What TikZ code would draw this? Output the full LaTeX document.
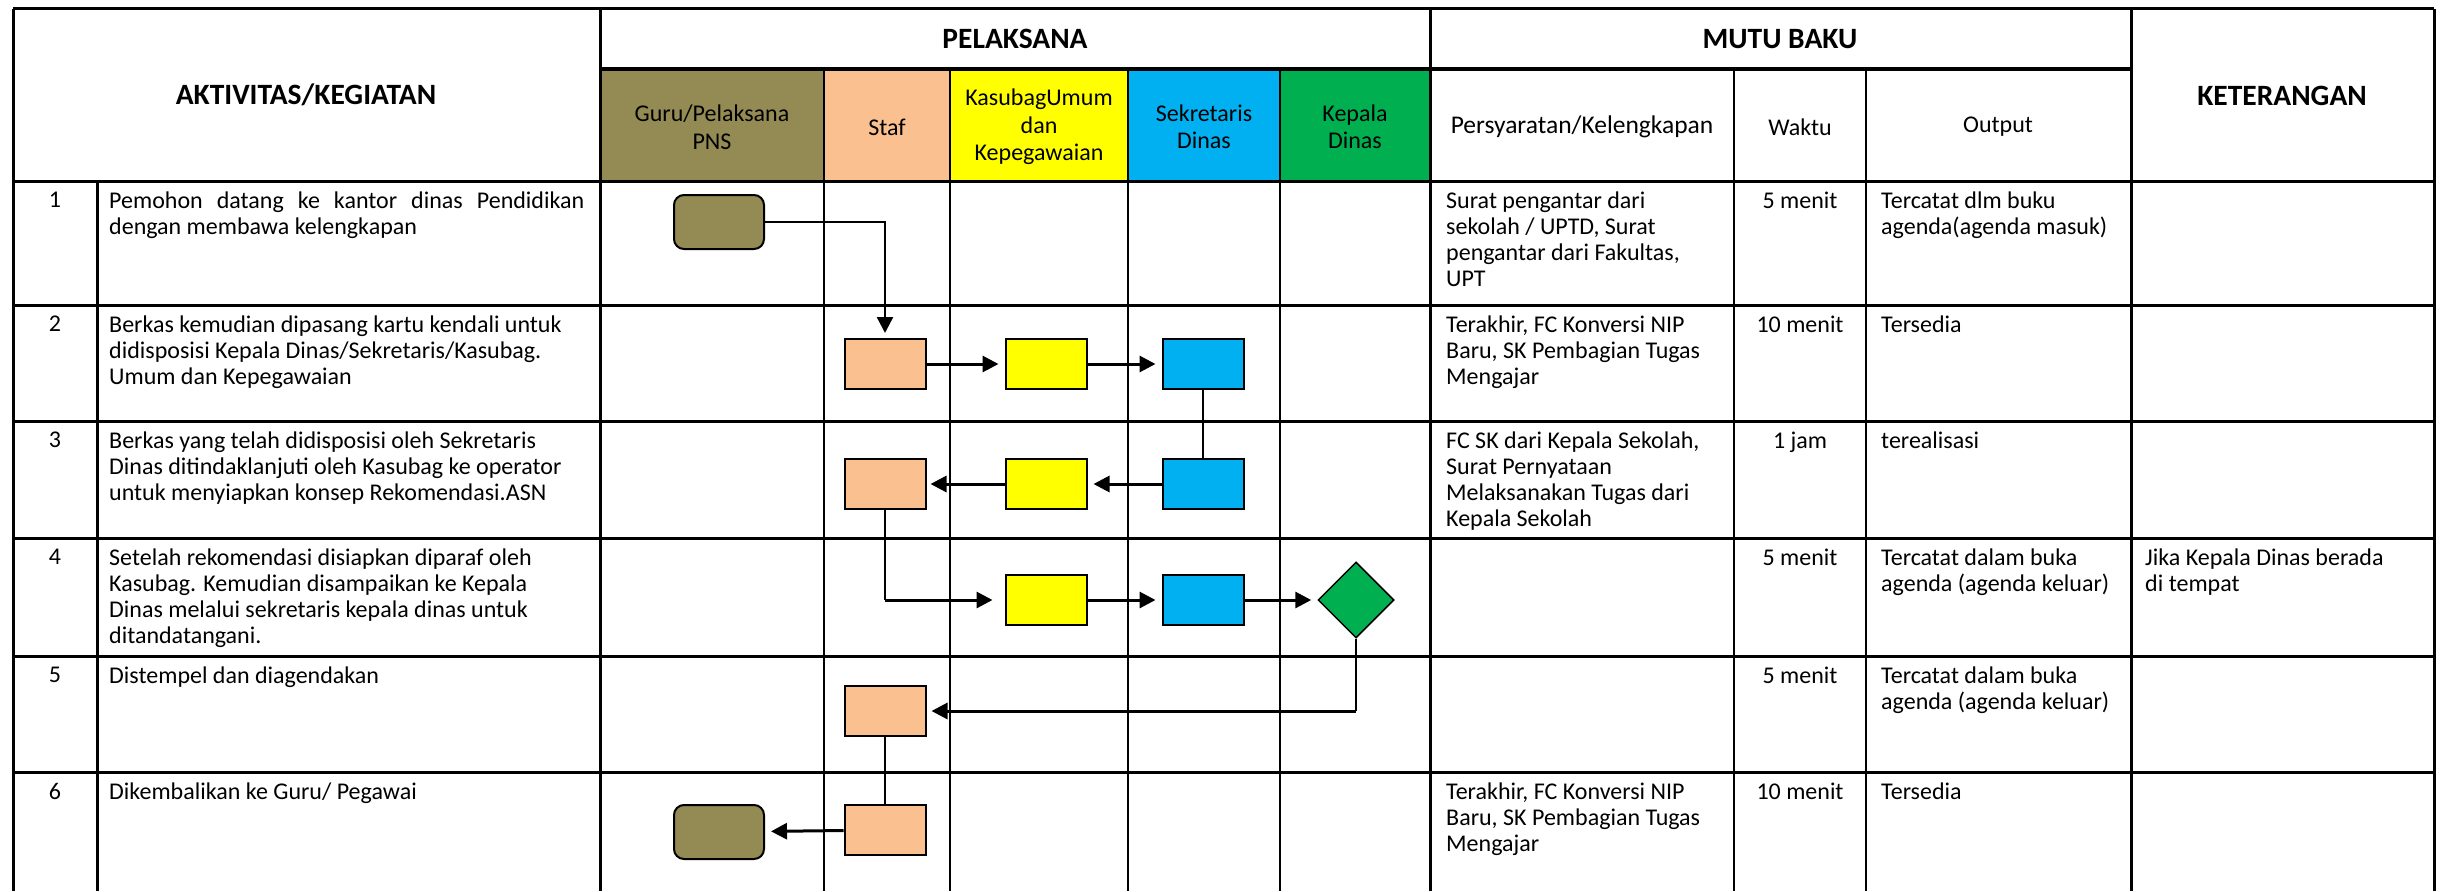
\documentclass[tikz,border=0pt]{standalone}
\usepackage{fontspec}
\setmainfont{Carlito}
\usetikzlibrary{arrows.meta,shapes.geometric}
\definecolor{olv}{HTML}{948A54}
\definecolor{stf}{HTML}{FAC090}
\definecolor{ylw}{HTML}{FFFF00}
\definecolor{blu}{HTML}{00B0F0}
\definecolor{grn}{HTML}{00B050}
\begin{document}
\begin{tikzpicture}[x=1pt,y=-1pt,
  every node/.style={inner sep=0pt},
  hdr/.style={font=\fontsize{29.5}{34}\selectfont\bfseries},
  lane/.style={font=\fontsize{24}{27.5}\selectfont, align=center},
  cell/.style={anchor=north west, align=left, font=\fontsize{24}{26}\selectfont},
  num/.style={anchor=north, align=center, font=\fontsize{24}{26}\selectfont},
  gridt/.style={line width=2pt},
  gridb/.style={line width=3pt},
  term/.style={draw, line width=2pt, rounded corners=10pt, minimum width=90pt, minimum height=54pt, fill=olv},
  proc/.style={draw, line width=2pt, minimum width=81pt, minimum height=50pt},
  dec/.style={diamond, draw, line width=1.5pt, minimum width=76pt, minimum height=76pt, fill=grn},
  arr/.style={line width=3pt, -{Triangle[length=16pt,width=16pt]}, shorten >=6pt},
  con/.style={line width=1.6pt},
]
\useasboundingbox (0,0) rectangle (2440,891);
\fill[white] (0,0) rectangle (2440,891);

% lane header fills
\fill[olv] (600,69) rectangle (824,181);
\fill[stf] (824,69) rectangle (950,181);
\fill[ylw] (950,69) rectangle (1128,181);
\fill[blu] (1128,69) rectangle (1280,181);
\fill[grn] (1280,69) rectangle (1430,181);

% grid: horizontal
\draw[gridb] (13,9) -- (2434,9);
\draw[gridb] (600,69) -- (2131,69);
\foreach \yy in {181,305,421,538,656,772} \draw[gridb] (13,\yy) -- (2434,\yy);
% grid: vertical
\foreach \xx in {13,600,1430,2131,2434} \draw[gridb] (\xx,9) -- (\xx,891);
\draw[gridb] (97,181) -- (97,891);
\foreach \xx in {824,950,1128,1280,1734,1866} \draw[gridt] (\xx,69) -- (\xx,891);

% headers
\node[hdr] (hA) at (306,95) {AKTIVITAS/KEGIATAN};
\node[hdr] (hP) at (1015,39) {PELAKSANA};
\node[hdr] (hM) at (1780,39) {MUTU BAKU};
\node[hdr] (hK) at (2282,96) {KETERANGAN};
\node[lane] (l1) at (712,127) {Guru/Pelaksana\\PNS};
\node[lane] (l2) at (887,127) {Staf};
\node[lane] (l3) at (1039,127) {KasubagUmum\\dan\\Kepegawaian};
\node[lane] (l4) at (1204,127) {Sekretaris\\Dinas};
\node[lane] (l5) at (1355,127) {Kepala\\Dinas};
\node[lane, font=\fontsize{25.5}{28}\selectfont] (m1) at (1582,127) {Persyaratan/Kelengkapan};
\node[lane] (m2) at (1800,127) {Waktu};
\node[lane] (m3) at (1998,127) {Output};

% row 1
\node[num] (n1) at (55,192) {1};
\node[cell] (t1) at (109,192) {\makebox[475pt][s]{Pemohon datang ke kantor dinas Pendidikan}\\dengan membawa kelengkapan};
\node[cell] (p1) at (1446,192) {Surat pengantar dari\\sekolah / UPTD, Surat\\pengantar dari Fakultas,\\UPT};
\node[num] (w1) at (1800,192) {5 menit};
\node[cell] (o1) at (1881,192) {Tercatat dlm buku\\agenda(agenda masuk)};
% row 2
\node[num] (n2) at (55,316) {2};
\node[cell] (t2) at (109,316) {Berkas kemudian dipasang kartu kendali untuk\\didisposisi Kepala Dinas/Sekretaris/Kasubag.\\Umum dan Kepegawaian};
\node[cell] (p2) at (1446,316) {Terakhir, FC Konversi NIP\\Baru, SK Pembagian Tugas\\Mengajar};
\node[num] (w2) at (1800,316) {10 menit};
\node[cell] (o2) at (1881,316) {Tersedia};
% row 3
\node[num] (n3) at (55,432) {3};
\node[cell] (t3) at (109,432) {Berkas yang telah didisposisi oleh Sekretaris\\Dinas ditindaklanjuti oleh Kasubag ke operator\\untuk menyiapkan konsep Rekomendasi.ASN};
\node[cell] (p3) at (1446,432) {FC SK dari Kepala Sekolah,\\Surat Pernyataan\\Melaksanakan Tugas dari\\Kepala Sekolah};
\node[num] (w3) at (1800,432) {1 jam};
\node[cell] (o3) at (1881,432) {terealisasi};
% row 4
\node[num] (n4) at (55,549) {4};
\node[cell] (t4) at (109,549) {Setelah rekomendasi disiapkan diparaf oleh\\Kasubag. Kemudian disampaikan ke Kepala\\Dinas melalui sekretaris kepala dinas untuk\\ditandatangani.};
\node[num] (w4) at (1800,549) {5 menit};
\node[cell] (o4) at (1881,549) {Tercatat dalam buka\\agenda (agenda keluar)};
\node[cell] (k4) at (2145,549) {Jika Kepala Dinas berada\\di tempat};
% row 5
\node[num] (n5) at (55,667) {5};
\node[cell] (t5) at (109,667) {Distempel dan diagendakan};
\node[num] (w5) at (1800,667) {5 menit};
\node[cell] (o5) at (1881,667) {Tercatat dalam buka\\agenda (agenda keluar)};
% row 6
\node[num] (n6) at (55,783) {6};
\node[cell] (t6) at (109,783) {Dikembalikan ke Guru/ Pegawai};
\node[cell] (p6) at (1446,783) {Terakhir, FC Konversi NIP\\Baru, SK Pembagian Tugas\\Mengajar};
\node[num] (w6) at (1800,783) {10 menit};
\node[cell] (o6) at (1881,783) {Tersedia};

% flow nodes
\node[term] (g1) at (719,222) {};
\node[proc, fill=stf] (s2) at (885,364) {};
\node[proc, fill=ylw] (y2) at (1046,364) {};
\node[proc, fill=blu] (b2) at (1203,364) {};
\node[proc, fill=stf] (s3) at (885,484) {};
\node[proc, fill=ylw] (y3) at (1046,484) {};
\node[proc, fill=blu] (b3) at (1203,484) {};
\node[proc, fill=ylw] (y4) at (1046,600) {};
\node[proc, fill=blu] (b4) at (1203,600) {};
\node[dec] (d4) at (1356,600) {};
\node[proc, fill=stf] (s5) at (885,711) {};
\node[proc, fill=stf] (s6) at (885,830) {};
\node[term] (g6) at (719,832) {};

% connectors
\draw[arr, line width=2.5pt, shorten >=5pt] (g1.east) -| (s2.north);
\draw[arr] (s2) -- (y2);
\draw[arr] (y2) -- (b2);
\draw[con] (b2) -- (b3);
\draw[arr] (b3) -- (y3);
\draw[arr, shorten >=4pt] (y3) -- (s3);
\coordinate (c1) at (s3.south |- y4.west);
\draw[con] (s3) -- (c1);
\draw[arr, shorten >=12pt] (c1) -- (y4.west);
\draw[arr] (y4) -- (b4);
\draw[arr] (b4) -- (d4);
\coordinate (c2) at (d4.south |- s5.east);
\draw[con] (d4) -- (c2);
\draw[arr, shorten >=5pt] (c2) -- (s5.east);
\draw[con] (s5) -- (s6);
\draw[arr] (s6) -- (g6);
\end{tikzpicture}
\end{document}
